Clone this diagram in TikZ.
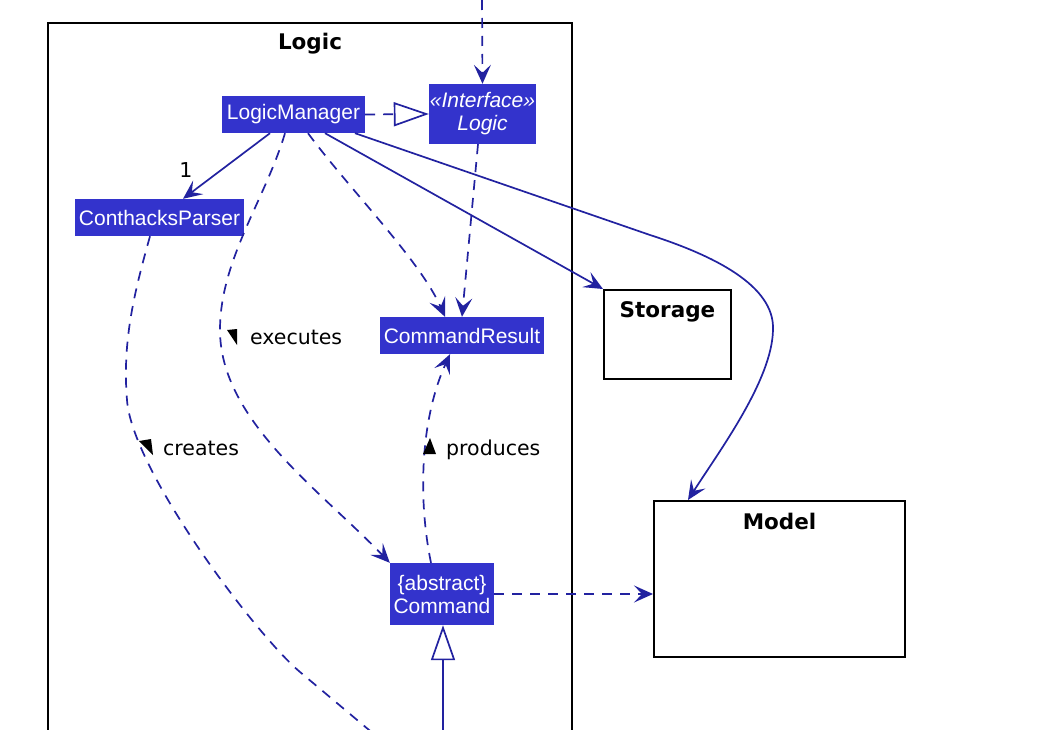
\documentclass[tikz,border=0pt]{standalone}
\usepackage{fontspec}
\setmainfont{Liberation Sans}
\newfontfamily\dvs{DejaVu Sans}
\usetikzlibrary{arrows.meta}
\definecolor{clsfill}{RGB}{51,51,204}
\definecolor{ln}{RGB}{34,34,160}
\begin{document}
\begin{tikzpicture}[x=1pt,y=-1pt,
  cls/.style={fill=clsfill, text=white, inner sep=0pt, align=center,
    font=\fontsize{21}{23}\selectfont},
  pkg/.style={draw=black, line width=2pt, fill=white},
  ttl/.style={font=\dvs\bfseries\fontsize{21.5}{24}\selectfont, anchor=base, inner sep=0pt},
  lbl/.style={font=\dvs\fontsize{20.5}{24}\selectfont, text=black, anchor=base west, inner sep=0pt},
  con/.style={draw=ln, line width=1.7pt},
  dsh/.style={dash pattern=on 10pt off 8pt},
  arr/.style={-{Stealth[length=19pt,width=17pt,inset=8pt]}},
  tri/.style={-{Triangle[open,length=35pt,width=24pt,fill=white]}},
  ltri/.style={fill=black}
]
\path[use as bounding box] (0,0) rectangle (1052,730);
\fill[white] (0,0) rectangle (1052,730);

% Logic package (bottom runs off the picture)
\draw[line width=2pt] (48,735) -- (48,23) -- (572,23) -- (572,735);
\node[ttl] (logict) at (310,50) {Logic};

% Storage and Model packages
\node[pkg, minimum width=127pt, minimum height=89pt, inner sep=0pt] (storage) at (667.5,334.5) {};
\node[ttl] (storaget) at (667.5,317) {Storage};
\node[pkg, minimum width=251pt, minimum height=156pt, inner sep=0pt] (model) at (779.5,579) {};
\node[ttl] (modelt) at (779.5,529) {Model};

% classes
\node[cls, minimum width=143pt, minimum height=37pt] (lm) at (293.5,114.5) {LogicManager};
\node[cls, minimum width=107pt, minimum height=60pt] (il) at (482.5,114) {\itshape «Interface»\\\itshape Logic};
\node[cls, minimum width=169pt, minimum height=37pt] (cp) at (159.5,217.5) {ConthacksParser};
\node[cls, minimum width=164pt, minimum height=37pt] (cr) at (462,335.5) {CommandResult};
\node[cls, minimum width=104pt, minimum height=62pt] (cmd) at (442,594) {\{abstract\}\\Command};

\coordinate (top) at (482,0);
\coordinate (botg) at (443,735);

% connectors
\draw[con, dsh, arr] (top) -- (il.north);
\draw[con, dsh, tri] (lm.east) -- (il.west);
\draw[con, arr] (lm.south -| 270,0) -- (cp.north -| 183,0);
\node[lbl, anchor=base] (one) at (186,178) {1};
\draw[con, arr] (lm.south -| 325,0) -- (storage.north west);
\draw[con, arr] (lm.south -| 355,0) -- (650,235)
   .. controls (712,255) and (775,285) .. (773,330)
   .. controls (772,380) and (720,450) .. (model.north -| 688,0);
\draw[con, dsh, arr] (lm.south -| 308,0) .. controls (350,190) and (420,260) .. (cr.north -| 445,0);
\draw[con, dsh, arr] (il.south -| 478,0) -- (cr.north -| 462,0);
\draw[con, dsh, arr] (lm.south -| 285,0) .. controls (265,200) and (220,260) .. (220,330)
   .. controls (220,420) and (320,490) .. (cmd.north west);
\draw[con, dsh] (cp.south -| 150,0) .. controls (135,290) and (122,340) .. (127,400)
   .. controls (132,470) and (255,634) .. (300,672) -- (375,735);
\draw[con, dsh, arr] (cmd.north -| 431,0) .. controls (418,500) and (420,420) .. (cr.south -| 450,0);
\draw[con, dsh, arr] (cmd.east) -- (model.west |- cmd.east);
\draw[con, tri] (botg) -- (cmd.south -| botg);

% labels
\fill[ltri] (227,330) -- (237,329) -- (237,345) -- cycle;
\node[lbl] (exec) at (250,344) {executes};
\fill[ltri] (139,441) -- (151,439) -- (153,455) -- cycle;
\node[lbl] (creat) at (163,455) {creates};
\fill[ltri] (423,454) -- (430,438) -- (436,454) -- cycle;
\node[lbl] (prod) at (446,455) {produces};
\end{tikzpicture}
\end{document}
